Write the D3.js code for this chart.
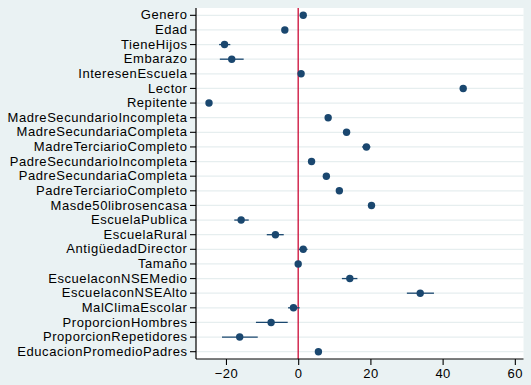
<!DOCTYPE html>
<html><head><meta charset="utf-8">
<script src="https://cdn.jsdelivr.net/npm/d3@7"></script>
<style>
html,body{margin:0;padding:0;background:#eaf2f3;}
svg{display:block;}
text{font-family:"Liberation Sans",Arial,sans-serif;}
</style></head>
<body>
<script>
const labels = ["Genero","Edad","TieneHijos","Embarazo","InteresenEscuela","Lector","Repitente",
"MadreSecundarioIncompleta","MadreSecundariaCompleta","MadreTerciarioCompleto",
"PadreSecundarioIncompleta","PadreSecundariaCompleta","PadreTerciarioCompleto",
"Masde50librosencasa","EscuelaPublica","EscuelaRural","AntigüedadDirector","Tamaño",
"EscuelaconNSEMedio","EscuelaconNSEAlto","MalClimaEscolar","ProporcionHombres",
"ProporcionRepetidores","EducacionPromedioPadres"];
const coef = [1.4,-3.7,-20.4,-18.4,0.8,45.7,-24.7,8.3,13.4,18.9,3.7,7.8,11.4,20.3,-15.8,-6.3,1.4,0.0,14.3,33.8,-1.3,-7.5,-16.2,5.6];
const ciLow = [0.9,-4.2,-21.9,-21.7,0.3,45.2,-25.3,7.8,12.7,17.7,3.2,7.3,10.9,19.8,-17.7,-8.7,0.2,-0.4,12.1,30.1,-2.8,-11.7,-21.1,5.1];
const ciHigh = [1.9,-3.2,-18.8,-15.1,1.3,46.2,-24.1,8.8,14.1,20.0,4.2,8.3,11.9,20.8,-13.7,-4.0,2.6,0.4,16.4,37.6,0.4,-2.9,-11.2,6.1];
const xTicks = [-20,0,20,40,60];

const W=531,H=385;
const L=196,R=523.5,T=8,B=359;
const svg=d3.select("body").append("svg").attr("width",W).attr("height",H);
svg.append("rect").attr("width",W).attr("height",H).attr("fill","#eaf2f3");
svg.append("rect").attr("x",L).attr("y",T).attr("width",R-L).attr("height",B-T).attr("fill","#ffffff");

const x=d3.scaleLinear().domain([-28.3,62.4]).range([L,R]);
const y=d3.scaleBand().domain(labels).range([T,B]).padding(0);
const yc=d=>y(d)+y.bandwidth()/2;

// gridlines
svg.append("g").selectAll("line").data(labels).join("line")
  .attr("x1",L).attr("x2",R).attr("y1",d=>yc(d)).attr("y2",d=>yc(d))
  .attr("stroke","#e6eeef").attr("stroke-width",1.2);

// zero line
svg.append("line").attr("x1",x(0)).attr("x2",x(0)).attr("y1",T).attr("y2",B)
  .attr("stroke","#cc0a36").attr("stroke-width",1.3);

// axes
const yAxis=d3.axisLeft(y).tickSize(6).tickPadding(3);
const gy=svg.append("g").attr("transform",`translate(${L},0)`).call(yAxis);
gy.select(".domain").attr("stroke","#000").attr("stroke-width",1.2).attr("d",`M0,${T}V${B}`);
gy.selectAll(".tick line").attr("stroke","#000").attr("stroke-width",1.1);
gy.selectAll(".tick text").attr("font-size",13).attr("fill","#000")
  .attr("letter-spacing","0.55px").attr("dx","0.5");

const xAxis=d3.axisBottom(x).tickValues(xTicks).tickSize(6).tickPadding(4);
const gx=svg.append("g").attr("transform",`translate(0,${B})`).call(xAxis);
gx.select(".domain").attr("stroke","#000").attr("stroke-width",1.2).attr("d",`M${L},0H${R}`);
gx.selectAll(".tick line").attr("stroke","#000").attr("stroke-width",1.1);
gx.selectAll(".tick text").attr("font-size",13).attr("fill","#000").attr("letter-spacing","0.5px");

// CIs
svg.append("g").selectAll("line").data(labels).join("line")
  .attr("x1",(d,i)=>x(ciLow[i])).attr("x2",(d,i)=>x(ciHigh[i]))
  .attr("y1",d=>yc(d)).attr("y2",d=>yc(d))
  .attr("stroke","#1a476f").attr("stroke-width",1.3);
// points
svg.append("g").selectAll("circle").data(labels).join("circle")
  .attr("cx",(d,i)=>x(coef[i])).attr("cy",d=>yc(d)).attr("r",3.7)
  .attr("fill","#1a476f");
</script>
</body></html>
